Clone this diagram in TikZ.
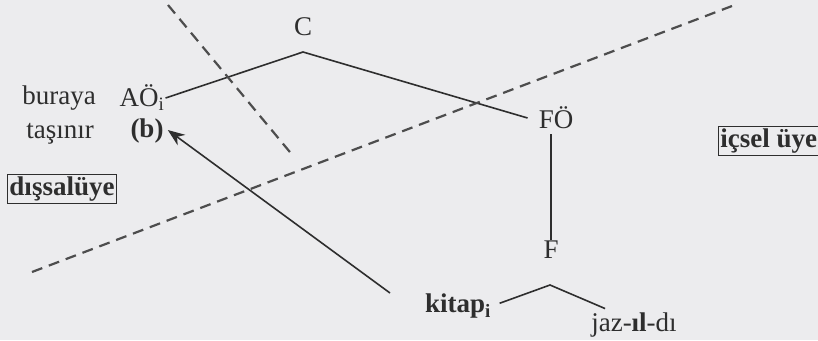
\documentclass[tikz,border=0pt]{standalone}
\usepackage{fontspec}
\setmainfont{Liberation Serif}
\usetikzlibrary{arrows.meta, positioning, calc}
\definecolor{paper}{HTML}{ECECEE}
\definecolor{ink}{HTML}{2E2E2E}

\tikzset{
  lbl/.style={inner sep=1pt, text=ink, font=\fontsize{27}{30}\selectfont},
  tag/.style={draw=ink, line width=0.9pt, inner sep=2pt, text=ink, font=\fontsize{27}{30}\selectfont\bfseries},
  branch/.style={draw=ink, line width=1.6pt},
  border/.style={draw=ink!85, line width=2.2pt, dash pattern=on 11pt off 7pt},
  move/.style={-{Stealth[length=17pt,width=13pt]}, draw=ink, line width=1.6pt}
}

\begin{document}
\begin{tikzpicture}[x=1pt,y=-1pt]
\fill[paper] (0,0) rectangle (818,340);
\useasboundingbox (0,0) rectangle (818,340);

% Tree
\node[lbl] (c) at (303,27) {C};
\node[lbl, inner sep=0pt] (ao) at (142,98) {AÖ\textsubscript{i}};
\node[lbl] (fo) at (556,118) {FÖ};
\node[lbl] (f) at (551,250) {F};
\node[lbl, font=\fontsize{27}{30}\selectfont\bfseries] (kitap) at (458,306) {kitap\textsubscript{i}};
\node[lbl] (jaz) at (634,325) {jaz-\textbf{ıl}-dı};
\coordinate (cx) at (303,52);
\coordinate (fx) at (550,285);

\draw[branch] ([xshift=1pt]ao.east) -- (cx) -- ([xshift=-10pt]fo.west);
\draw[branch, shorten <=4pt] (f.north |- fo.south) -- (f.north);
\draw[branch, shorten <=8pt] (kitap.east) -- (fx) -- ($(jaz.north west)+(15,-3)$);

% Side labels
\node[lbl] (buraya) at (59,98) {buraya};
\node[lbl] (tasinir) at (60,134) {taşınır};
\node[lbl, inner sep=0pt, font=\fontsize{27}{30}\selectfont\bfseries] (b) at (147,131) {(b)};
\node[tag] (dis) at (62,189) {dışsalüye};
\node[tag, anchor=west] (ic) at (718,141) {içsel üye};

% Movement
\coordinate (mv) at (390,293);
\draw[move, shorten >=32pt] (mv) -- (ao.south);

% Domain borders
\coordinate (d1a) at (168,5);
\coordinate (d1b) at (294,157);
\coordinate (d2a) at (32,272);
\coordinate (d2b) at (732,6);
\draw[border] (d1a) -- (d1b);
\draw[border] (d2a) -- (d2b);
\end{tikzpicture}
\end{document}
